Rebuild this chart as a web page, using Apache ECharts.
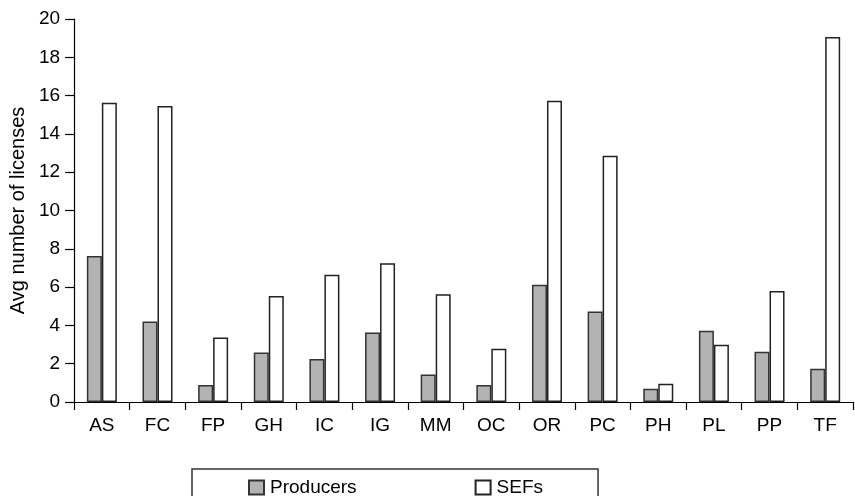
<!DOCTYPE html>
<html>
<head>
<meta charset="utf-8">
<script src="https://cdn.jsdelivr.net/npm/echarts@6/dist/echarts.min.js"></script>
<style>html,body{margin:0;padding:0;background:#fff;}#c{width:855px;height:496px;}</style>
</head>
<body>
<div id="c"></div>
<script>
const categories = ['AS','FC','FP','GH','IC','IG','MM','OC','OR','PC','PH','PL','PP','TF'];
const producers = [7.63, 4.2, 0.89, 2.59, 2.24, 3.63, 1.44, 0.89, 6.12, 4.73, 0.69, 3.72, 2.62, 1.74];
const sefs = [15.63, 15.46, 3.37, 5.53, 6.64, 7.25, 5.63, 2.78, 15.73, 12.86, 0.95, 2.99, 5.79, 19.06];
const yTitle = 'Avg number of licenses';

const font = 'Liberation Sans, Arial, Helvetica, sans-serif';
const chart = echarts.init(document.getElementById('c'));
chart.setOption({
  animation: false,
  backgroundColor: '#fff',
  textStyle: {fontFamily: font},
  grid: {left: 70, right: 2, top: 19, bottom: 94, containLabel: false},
  legend: {
    left: 192, top: 469,
    data: ['Producers', 'SEFs'],
    borderColor: '#333', borderWidth: 1.5,
    padding: [9, 55, 9, 56],
    itemGap: 118,
    itemWidth: 15, itemHeight: 14,
    icon: 'rect',
    textStyle: {fontFamily: font, fontSize: 19, color: '#000', padding: [0, 0, 0, 1]}
  },
  xAxis: {
    type: 'category',
    data: categories,
    boundaryGap: true,
    axisLine: {lineStyle: {color: '#000', width: 1.2}},
    axisTick: {show: true, length: 8, lineStyle: {color: '#000', width: 1.2}},
    axisLabel: {color: '#000', fontSize: 19, margin: 14, fontFamily: font}
  },
  yAxis: {
    type: 'value',
    min: 0, max: 20, interval: 2,
    name: yTitle,
    nameLocation: 'middle',
    nameGap: 46,
    nameTextStyle: {color: '#000', fontSize: 20, fontFamily: font},
    axisLine: {show: true, lineStyle: {color: '#000', width: 1.2}},
    axisTick: {show: true, length: 9, lineStyle: {color: '#000', width: 1.2}},
    axisLabel: {color: '#000', fontSize: 19, margin: 14, fontFamily: font},
    splitLine: {show: false}
  },
  series: [
    {
      name: 'Producers', type: 'bar', data: producers,
      barWidth: 15, barGap: '0%',
      itemStyle: {color: '#b3b3b3', borderColor: '#333', borderWidth: 1.5}
    },
    {
      name: 'SEFs', type: 'bar', data: sefs,
      barWidth: 15, barGap: '0%',
      itemStyle: {color: '#ffffff', borderColor: '#222', borderWidth: 1.5}
    }
  ]
});
</script>
</body>
</html>
